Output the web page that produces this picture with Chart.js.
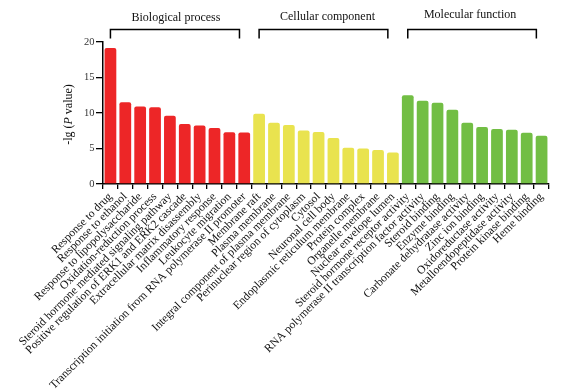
<!DOCTYPE html>
<html><head><meta charset="utf-8">
<script src="https://cdn.jsdelivr.net/npm/chart.js@4/dist/chart.umd.min.js"></script>
<style>html,body{margin:0;padding:0;background:#fff}#wrap{width:570px;height:392px}</style>
</head><body><div id="wrap"><canvas id="c" width="570" height="392"></canvas></div>
<script>
const bpTerms = ['Response to drug','Response to ethanol','Response to lipopolysaccharide','Oxidation-reduction process','Steroid hormone mediated signaling pathway','Positive regulation of ERK1 and ERK2 cascade','Extracellular matrix disassembly','Inflammatory response','Leukocyte migration','Transcription initiation from RNA polymerase II promoter'];
const ccTerms = ['Membrane raft','Plasma membrane','Integral component of plasma membrane','Perinuclear region of cytoplasm','Cytosol','Neuronal cell body','Endoplasmic reticulum membrane','Protein complex','Organelle membrane','Nuclear envelope lumen'];
const mfTerms = ['Steroid hormone receptor activity','RNA polymerase II transcription factor activity','Steroid binding','Enzyme binding','Carbonate dehydratase activity','Zinc ion binding','Oxidoreductase activity','Metalloendopeptidase activity','Protein kinase binding','Heme binding'];
const bpValues = [19.15, 11.5, 10.9, 10.8, 9.6, 8.45, 8.25, 7.9, 7.3, 7.27];
const ccValues = [9.9, 8.63, 8.3, 7.55, 7.32, 6.48, 5.1, 5.0, 4.79, 4.45];
const mfValues = [12.5, 11.73, 11.45, 10.46, 8.63, 8.03, 7.75, 7.65, 7.22, 6.8];
const groupNames = ['Biological process','Cellular component','Molecular function'];
const yTicks = [0, 5, 10, 15, 20];

const groupColors = ['#ED2627', '#E9E34F', '#72BE44'];
const labels = [...bpTerms, ...ccTerms, ...mfTerms];
const values = [...bpValues, ...ccValues, ...mfValues];
const colors = [
  ...bpTerms.map(() => groupColors[0]),
  ...ccTerms.map(() => groupColors[1]),
  ...mfTerms.map(() => groupColors[2])
];
const FONT = '"Liberation Serif", "Times New Roman", serif';

const bracketPlugin = {
  id: 'brackets',
  afterDraw(chart, args, opts) {
    const ctx = chart.ctx;
    const xs = chart.scales.x;
    ctx.save();
    ctx.strokeStyle = '#000';
    ctx.lineWidth = 1.5;
    ctx.fillStyle = '#111';
    ctx.font = '12px ' + FONT;
    ctx.textAlign = 'center';
    ctx.textBaseline = 'alphabetic';
    opts.spans.forEach((s, i) => {
      const x0 = xs.getPixelForValue(s[0]);
      const x1 = xs.getPixelForValue(s[1]);
      ctx.beginPath();
      ctx.moveTo(x0, opts.bottom);
      ctx.lineTo(x0, opts.top);
      ctx.lineTo(x1, opts.top);
      ctx.lineTo(x1, opts.bottom);
      ctx.stroke();
      ctx.fillText(groupNames[i], (x0 + x1) / 2 + opts.textDx[i], opts.textY[i]);
    });
    // y axis title with italic P
    const cy = (chart.chartArea.top + chart.chartArea.bottom) / 2 + 1.5;
    ctx.translate(opts.titleX, cy);
    ctx.rotate(-Math.PI / 2);
    const parts = [['-lg (', 'normal'], ['P', 'italic'], [' value)', 'normal']];
    let total = 0;
    parts.forEach(p => { ctx.font = p[1] + ' 12px ' + FONT; total += ctx.measureText(p[0]).width; });
    let x = -total / 2;
    ctx.textAlign = 'left';
    ctx.textBaseline = 'middle';
    parts.forEach(p => { ctx.font = p[1] + ' 12px ' + FONT; ctx.fillText(p[0], x, 0); x += ctx.measureText(p[0]).width; });
    ctx.restore();
  }
};

new Chart(document.getElementById('c'), {
  type: 'bar',
  data: {
    labels: labels,
    datasets: [{
      data: values,
      backgroundColor: colors,
      borderWidth: 0,
      borderRadius: { topLeft: 2, topRight: 2 },
      borderSkipped: 'bottom',
      barPercentage: 0.79,
      categoryPercentage: 1
    }]
  },
  options: {
    responsive: false,
    animation: false,
    devicePixelRatio: 1,
    layout: { padding: { left: 0, right: 21, top: 42, bottom: 0 } },
    plugins: {
      legend: { display: false },
      tooltip: { enabled: false },
      brackets: {
        spans: [[0, 8.68], [10, 18.66], [20, 28.65]],
        top: 29.5,
        bottom: 38.5,
        textY: [20.5, 19.5, 18],
        textDx: [1, 4, -2],
        titleX: 69
      }
    },
    scales: {
      x: {
        afterFit(s) { s.height = 392 - 184; },
        grid: { display: true, drawOnChartArea: false, drawTicks: true, tickLength: 5, color: '#000', lineWidth: 1.3 },
        border: { display: true, color: '#000', width: 1.5 },
        ticks: {
          autoSkip: false, minRotation: 45, maxRotation: 45, padding: 1,
          color: '#111', font: { family: FONT, size: 11.6 }
        }
      },
      y: {
        min: 0, max: 20,
        afterFit(s) { s.width = 103; },
        afterBuildTicks(s) { s.ticks = yTicks.map(v => ({ value: v })); },
        grid: { display: true, drawOnChartArea: false, drawTicks: true, tickLength: 7, color: '#000', lineWidth: 1.3 },
        border: { display: true, color: '#000', width: 1.5 },
        ticks: { padding: 1.5, color: '#333', font: { family: FONT, size: 10.5 } }
      }
    }
  },
  plugins: [bracketPlugin]
});
</script></body></html>
